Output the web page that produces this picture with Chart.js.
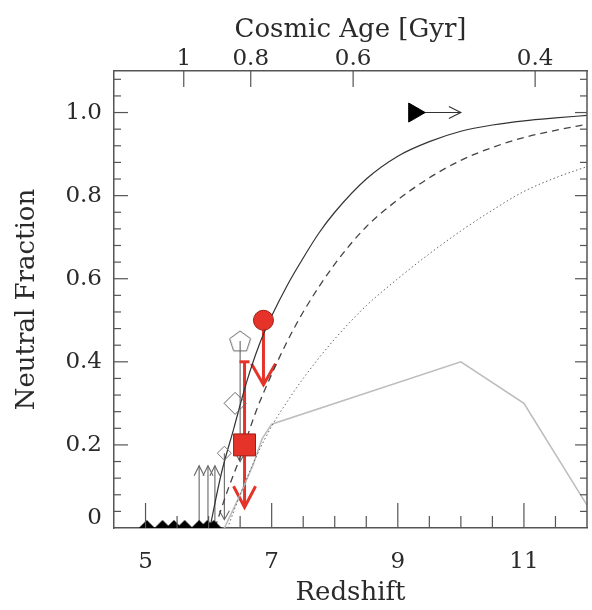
<!DOCTYPE html>
<html>
<head>
<meta charset="utf-8">
<script src="https://cdn.jsdelivr.net/npm/chart.js@4.4.0/dist/chart.umd.min.js"></script>
<style>
  html, body { margin: 0; padding: 0; background: #fff; }
</style>
</head>
<body>
<canvas id="chart" width="592" height="610"></canvas>
<script>
// --- model curves: redshift vs neutral fraction
const solidZ = [6.02, 6.2, 6.4, 6.6, 6.8, 7.0, 7.25, 7.5, 7.75, 8.0, 8.5, 9.0, 9.5, 10.0, 10.5, 11.0, 11.5, 12.0];
const solidF = [0, 0.13, 0.24, 0.35, 0.44, 0.51, 0.585, 0.65, 0.71, 0.76, 0.84, 0.895, 0.93, 0.955, 0.97, 0.98, 0.987, 0.993];
const dashedZ = [6.1, 6.3, 6.5, 6.75, 7.0, 7.25, 7.5, 8.0, 8.5, 9.0, 9.5, 10.0, 10.5, 11.0, 11.5, 12.0];
const dashedF = [0, 0.09, 0.17, 0.28, 0.37, 0.45, 0.52, 0.635, 0.725, 0.79, 0.843, 0.885, 0.916, 0.94, 0.957, 0.972];
const dottedZ = [6.3, 6.5, 6.75, 7.0, 7.25, 7.5, 8.0, 8.5, 9.0, 9.5, 10.0, 10.5, 11.0, 11.5, 12.0];
const dottedF = [0, 0.08, 0.17, 0.245, 0.305, 0.36, 0.455, 0.535, 0.6, 0.66, 0.715, 0.765, 0.81, 0.843, 0.87];
const grayZ = [6.25, 6.5, 6.7, 6.85, 7.0, 10.0, 11.0, 12.0];
const grayF = [0, 0.08, 0.15, 0.215, 0.25, 0.40, 0.30, 0.055];

// --- measurements
const redCircle = { z: 6.87, f: 0.50, limitTo: 0.345 };            // upper limit
const redSquare = { z: 6.57, f: 0.20, errTop: 0.40, limitTo: 0.05 };
const pentagonPt = { z: 6.50, f: 0.45, limitTo: 0.16 };
const diamondPt = { z: 6.42, f: 0.30 };
const smallDiamondPt = { z: 6.25, f: 0.18, limitTo: 0.02 };
const bottomZ = [5.02, 5.27, 5.45, 5.62, 5.85, 5.98, 6.08];          // filled triangles at ~0
const lowerLimZ = [5.85, 5.99, 6.10];                                 // lower limits (arrows up)
const lowerLimTo = 0.15;
const zLimit = { z: 9.26, f: 1.0, toZ: 10.0 };                         // redshift lower limit

// --- axes
const xTickLabels = [5, 7, 9, 11];
const xMinorTicks = [5, 5.5, 6, 6.5, 7, 7.5, 8, 8.5, 9, 9.5, 10, 10.5, 11, 11.5];
const yTickLabels = [0, 0.2, 0.4, 0.6, 0.8, 1.0];
const yMinorTicks = [];
for (let i = 1; i <= 27; i += 1) yMinorTicks.push(+(i * 0.04).toFixed(2));
const ageTickLabels = [1, 0.8, 0.6, 0.4];

const FONT = 'DejaVu Serif';
const AXIS_COL = '#555';
const TXT_COL = '#2a2a2a';
const RED = '#e5332a';

// flat LCDM (H0=70, Om=0.3): redshift at a given cosmic age in Gyr
const zOfAge = (t) => {
  const ol = 0.7; const om = 0.3;
  const pref = (2 * (977.8 / 70)) / (3 * Math.sqrt(ol));
  const x = Math.sinh(t / pref) / Math.sqrt(ol / om);
  return Math.pow(x, -2 / 3) - 1;
};

// marker images
const makeCanvas = (w, h, draw) => {
  const c = document.createElement('canvas');
  c.width = w; c.height = h;
  draw(c.getContext('2d'));
  return c;
};
const pentagonImg = makeCanvas(26, 26, (g) => {
  g.beginPath();
  for (let i = 0; i < 5; i += 1) {
    const a = -Math.PI / 2 + (i * 2 * Math.PI) / 5;
    const px = 13 + 11 * Math.cos(a); const py = 14 + 11 * Math.sin(a);
    if (i === 0) g.moveTo(px, py); else g.lineTo(px, py);
  }
  g.closePath();
  g.strokeStyle = '#666'; g.lineWidth = 1; g.stroke();
});
const flatTriImg = makeCanvas(16, 18, (g) => {
  g.beginPath(); g.moveTo(0, 9); g.lineTo(8, 1); g.lineTo(16, 9); g.closePath();
  g.fillStyle = '#000'; g.fill();
});

const pts = (zs, fs) => zs.map((z, i) => ({ x: z, y: fs[i] }));

// inward ticks, arrows, error bars
const line = (ctx, x1, y1, x2, y2) => { ctx.beginPath(); ctx.moveTo(x1, y1); ctx.lineTo(x2, y2); ctx.stroke(); };
const vArrow = (ctx, x, y1, y2, hw, hl) => {
  const dir = y2 > y1 ? 1 : -1;
  line(ctx, x, y1, x, y2);
  ctx.beginPath(); ctx.moveTo(x - hw, y2 - dir * hl); ctx.lineTo(x, y2); ctx.lineTo(x + hw, y2 - dir * hl); ctx.stroke();
};

const decorPlugin = {
  id: 'decor',
  beforeDatasetsDraw(chart) {
    const { ctx } = chart;
    const xs = chart.scales.x; const ys = chart.scales.y;
    ctx.save();
    ctx.lineCap = 'butt';
    // gray limits
    ctx.strokeStyle = '#666'; ctx.lineWidth = 1.1;
    lowerLimZ.forEach((z) => vArrow(ctx, xs.getPixelForValue(z), ys.getPixelForValue(0), ys.getPixelForValue(lowerLimTo), 5, 10));
    [pentagonPt, smallDiamondPt].forEach((p) => vArrow(ctx, xs.getPixelForValue(p.z), ys.getPixelForValue(p.f), ys.getPixelForValue(p.limitTo), 5, 9));
    // redshift limit
    ctx.strokeStyle = '#333';
    const zx1 = xs.getPixelForValue(zLimit.z); const zx2 = xs.getPixelForValue(zLimit.toZ); const zy = ys.getPixelForValue(zLimit.f);
    line(ctx, zx1, zy, zx2, zy);
    ctx.beginPath(); ctx.moveTo(zx2 - 12, zy - 6); ctx.lineTo(zx2, zy); ctx.lineTo(zx2 - 12, zy + 6); ctx.stroke();
    // red limits
    ctx.strokeStyle = RED; ctx.lineWidth = 3;
    const cx = xs.getPixelForValue(redCircle.z);
    vArrow(ctx, cx, ys.getPixelForValue(redCircle.f), ys.getPixelForValue(redCircle.limitTo), 12, 21);
    const sx = xs.getPixelForValue(redSquare.z);
    vArrow(ctx, sx, ys.getPixelForValue(redSquare.f), ys.getPixelForValue(redSquare.limitTo), 11, 21);
    const topY = ys.getPixelForValue(redSquare.errTop);
    line(ctx, sx, ys.getPixelForValue(redSquare.f), sx, topY);
    line(ctx, sx - 5, topY, sx + 5, topY);
    ctx.restore();
  },
  afterDatasetsDraw(chart) {
    const { ctx, chartArea: { left, right, top, bottom } } = chart;
    const xs = chart.scales.x; const ys = chart.scales.y; const x2 = chart.scales.x2;
    ctx.save();
    ctx.strokeStyle = AXIS_COL; ctx.lineWidth = 1.5;
    line(ctx, right, top, right, bottom); // right frame
    ctx.lineWidth = 1.2;
    xMinorTicks.forEach((v) => {
      const px = xs.getPixelForValue(v);
      line(ctx, px, bottom, px, bottom - (xTickLabels.includes(v) ? 25 : 12));
    });
    ageTickLabels.forEach((a) => {
      const px = x2.getPixelForValue(zOfAge(a));
      line(ctx, px, top, px, top + 16);
    });
    yMinorTicks.forEach((v) => {
      const py = ys.getPixelForValue(v);
      const major = Math.abs(v * 5 - Math.round(v * 5)) < 1e-6;
      line(ctx, left, py, left + (major ? 14 : 7), py);
      line(ctx, right, py, right - (major ? 12 : 7), py);
    });
    ctx.restore();
  },
};

const tickFont = { family: FONT, size: 23 };
const titleFont = { family: FONT, size: 26 };

new Chart(document.getElementById('chart'), {
  type: 'scatter',
  data: {
    datasets: [
      { data: [{ x: redCircle.z, y: redCircle.f }], pointStyle: 'circle', pointRadius: 10, backgroundColor: RED, borderColor: '#9e1c14', borderWidth: 1 },
      { data: [{ x: redSquare.z, y: redSquare.f }], pointStyle: 'rect', pointRadius: 15.5, backgroundColor: RED, borderColor: '#9e1c14', borderWidth: 1 },
      { data: [{ x: pentagonPt.z, y: pentagonPt.f }], pointStyle: pentagonImg },
      { data: [{ x: diamondPt.z, y: diamondPt.f }], pointStyle: 'rectRot', pointRadius: 11, backgroundColor: 'rgba(0,0,0,0)', borderColor: '#666', borderWidth: 1 },
      { data: [{ x: smallDiamondPt.z, y: smallDiamondPt.f }], pointStyle: 'rectRot', pointRadius: 7, backgroundColor: 'rgba(0,0,0,0)', borderColor: '#777', borderWidth: 1 },
      { data: bottomZ.map((z) => ({ x: z, y: 0 })), pointStyle: flatTriImg, clip: false },
      { data: [{ x: zLimit.z, y: zLimit.f }], pointStyle: 'triangle', rotation: 90, pointRadius: 11, backgroundColor: '#000', borderColor: '#000', borderWidth: 1 },
      { type: 'line', data: pts(solidZ, solidF), borderColor: '#333', borderWidth: 1.2, pointRadius: 0, cubicInterpolationMode: 'monotone' },
      { type: 'line', data: pts(dashedZ, dashedF), borderColor: '#444', borderWidth: 1.3, borderDash: [7, 5], pointRadius: 0, cubicInterpolationMode: 'monotone' },
      { type: 'line', data: pts(dottedZ, dottedF), borderColor: '#666', borderWidth: 1, borderDash: [1.5, 2.5], pointRadius: 0, cubicInterpolationMode: 'monotone' },
      { type: 'line', data: pts(grayZ, grayF), borderColor: '#bdbdbd', borderWidth: 1.6, pointRadius: 0, tension: 0 },
    ],
  },
  options: {
    responsive: false,
    animation: false,
    layout: { autoPadding: false, padding: { right: 5, left: 0, top: 0, bottom: 0 } },
    plugins: { legend: { display: false }, tooltip: { enabled: false } },
    scales: {
      x: {
        type: 'linear', position: 'bottom', min: 4.5, max: 12,
        afterBuildTicks: (s) => { s.ticks = xTickLabels.map((v) => ({ value: v })); },
        afterFit: (s) => { s.height = 82; },
        grid: { display: false, drawTicks: false },
        border: { display: true, color: AXIS_COL, width: 1.5 },
        ticks: { color: TXT_COL, font: tickFont, padding: 20, autoSkip: false, maxRotation: 0, callback: (v) => String(v) },
        title: { display: true, text: 'Redshift', color: TXT_COL, font: titleFont, padding: { top: 0, bottom: 1 } },
      },
      x2: {
        type: 'linear', position: 'top', min: 4.5, max: 12,
        afterBuildTicks: (s) => { s.ticks = ageTickLabels.map((a) => ({ value: zOfAge(a) })); },
        afterFit: (s) => { s.height = 71; },
        grid: { display: false, drawTicks: false },
        border: { display: true, color: AXIS_COL, width: 1.5 },
        ticks: { color: TXT_COL, font: tickFont, padding: -2, autoSkip: false, maxRotation: 0, callback: (v, i) => String(ageTickLabels[i]) },
        title: { display: true, text: 'Cosmic Age [Gyr]', color: TXT_COL, font: titleFont, padding: { top: 15, bottom: 0 } },
      },
      y: {
        type: 'linear', position: 'left', min: 0, max: 1.1,
        // the "0" label sits a little above the axis in the original
        afterBuildTicks: (s) => { s.ticks = yTickLabels.map((v) => ({ value: v === 0 ? 0.024 : v })); },
        afterFit: (s) => { s.width = 114; },
        grid: { display: false, drawTicks: false },
        border: { display: true, color: AXIS_COL, width: 1.5 },
        ticks: { color: TXT_COL, font: tickFont, padding: 12, autoSkip: false, callback: (v, i) => (yTickLabels[i] === 0 ? '0' : yTickLabels[i].toFixed(1)) },
        title: { display: true, text: 'Neutral Fraction', color: TXT_COL, font: titleFont, padding: { top: 12, bottom: 0 } },
      },
    },
  },
  plugins: [decorPlugin],
});
</script>
</body>
</html>
